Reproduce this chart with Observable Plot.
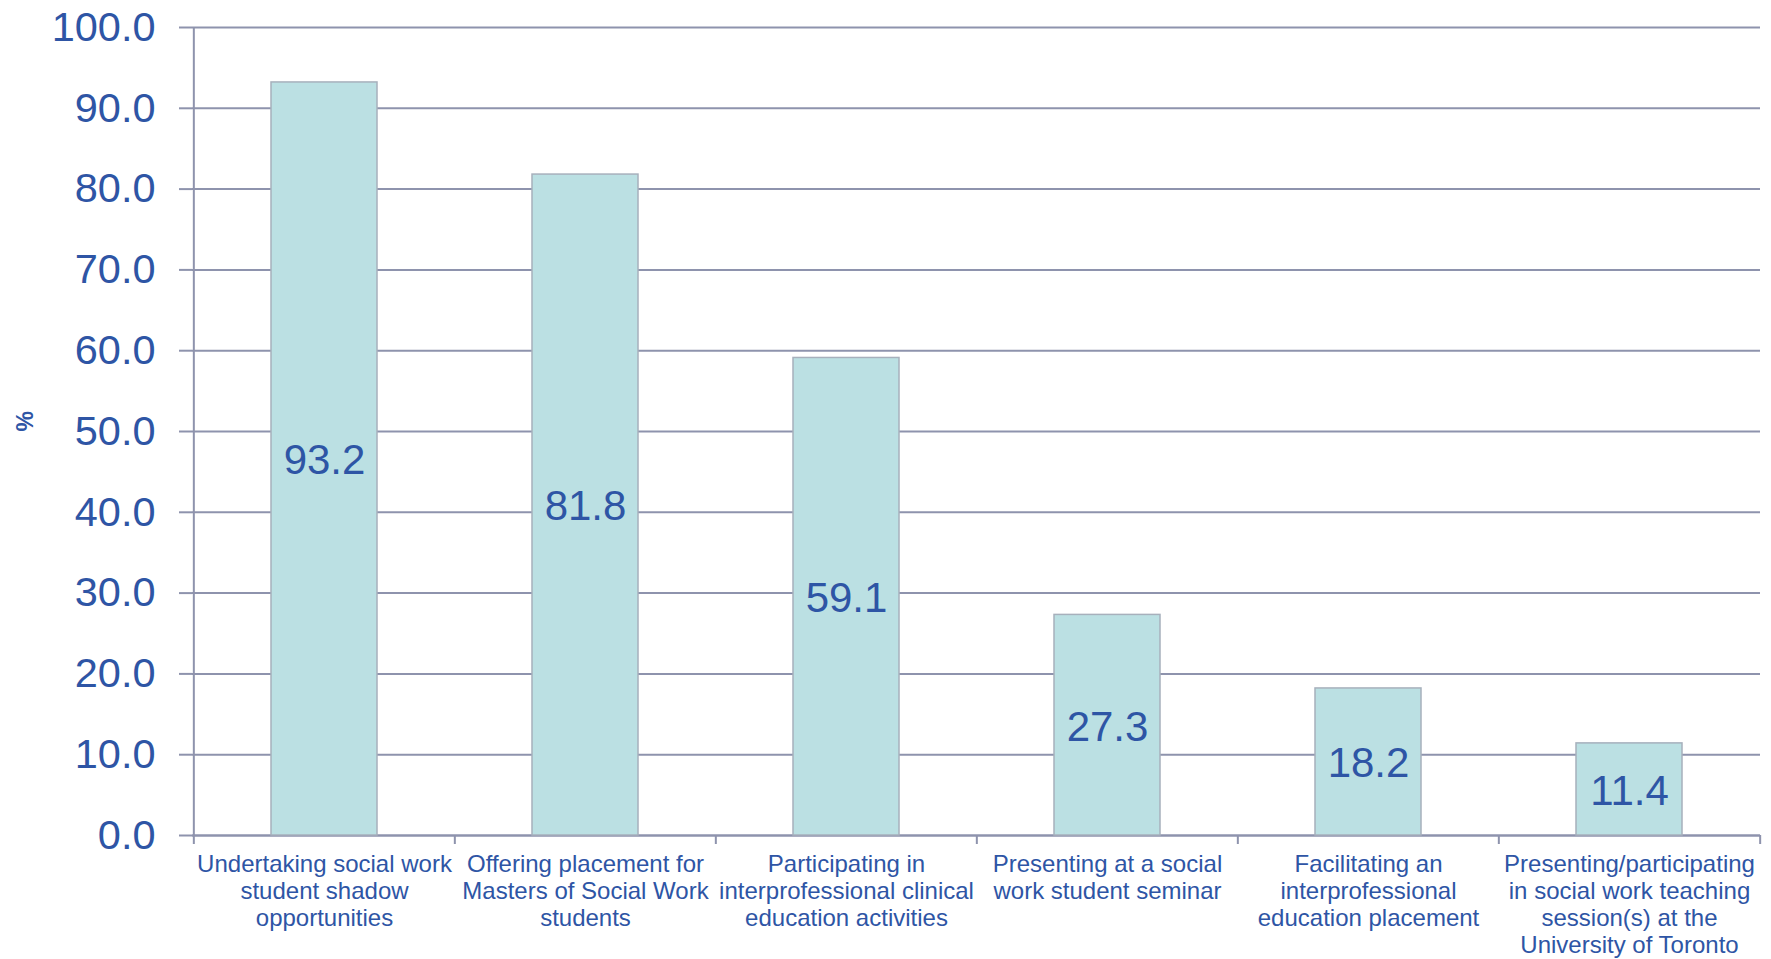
<!DOCTYPE html>
<html>
<head>
<meta charset="utf-8">
<script src="https://cdn.jsdelivr.net/npm/d3@7"></script>
<script src="https://cdn.jsdelivr.net/npm/@observablehq/plot@0.6"></script>
<style>
  html, body { margin: 0; padding: 0; background: #fff; }
  #chart svg { display: block; }
</style>
</head>
<body>
<div id="chart"></div>
<script>
const categories = [
  "Undertaking social work\nstudent shadow\nopportunities",
  "Offering placement for\nMasters of Social Work\nstudents",
  "Participating in\ninterprofessional clinical\neducation activities",
  "Presenting at a social\nwork student seminar",
  "Facilitating an\ninterprofessional\neducation placement",
  "Presenting/participating\nin social work teaching\nsession(s) at the\nUniversity of Toronto"
];
const values = [93.2, 81.8, 59.1, 27.3, 18.2, 11.4];
const yTicks = [0, 10, 20, 30, 40, 50, 60, 70, 80, 90, 100];
const yLabel = "%";

const data = categories.map((c, i) => ({cat: c, value: values[i]}));

const W = 1771, H = 959;
const mL = 192, mR = 11, mT = 27, mB = 124;
const step = (W - mL - mR) / categories.length;

const blue = "#2E55A5";
const gridColor = "#8E93AD";
const font = "'Liberation Sans', Arial, sans-serif";

const chart = Plot.plot({
  width: W,
  height: H,
  marginLeft: mL,
  marginRight: mR,
  marginTop: mT,
  marginBottom: mB,
  style: {fontFamily: font, background: "#fff"},
  x: {domain: categories, paddingInner: 0.595, paddingOuter: 0.2975},
  y: {domain: [0, 100]},
  marks: [
    Plot.gridY(yTicks, {stroke: gridColor, strokeOpacity: 1, strokeWidth: 2}),
    Plot.axisY(yTicks, {
      tickSize: 13, tickPadding: 24, stroke: gridColor, strokeWidth: 2,
      tickFormat: d3.format(".1f"), fontSize: 41.5, fill: blue, label: null
    }),
    Plot.axisX({
      tickSize: 0, tickPadding: 17, fontSize: 24, fill: blue,
      lineHeight: 1.13, label: null
    }),
    Plot.ruleY([0], {stroke: gridColor, strokeWidth: 2}),
    // category boundary ticks (left edge of each band) and y axis line
    Plot.ruleX(categories, {
      x: d => d, dx: -step / 2, y1: 0, y2: 0, insetBottom: -9,
      stroke: gridColor, strokeWidth: 2
    }),
    Plot.ruleX([categories[categories.length - 1]], {
      x: d => d, dx: step / 2, y1: 0, y2: 0, insetBottom: -9,
      stroke: gridColor, strokeWidth: 2
    }),
    Plot.ruleX([categories[0]], {
      x: d => d, dx: -step / 2, y1: 0, y2: 100,
      stroke: gridColor, strokeWidth: 2
    }),
    Plot.barY(data, {
      x: "cat", y: "value", fill: "#BBE0E3", stroke: "#A7B0BC", strokeWidth: 1.5
    }),
    Plot.text(data, {
      x: "cat", y: d => d.value / 2, text: d => d.value.toFixed(1),
      fontSize: 42, fill: blue, dy: 2
    }),
    Plot.text([yLabel], {
      frameAnchor: "left", dx: -167, rotate: -90, text: d => d,
      fontSize: 23, fontWeight: "bold", fill: blue
    })
  ]
});
document.getElementById("chart").appendChild(chart);
</script>
</body>
</html>
